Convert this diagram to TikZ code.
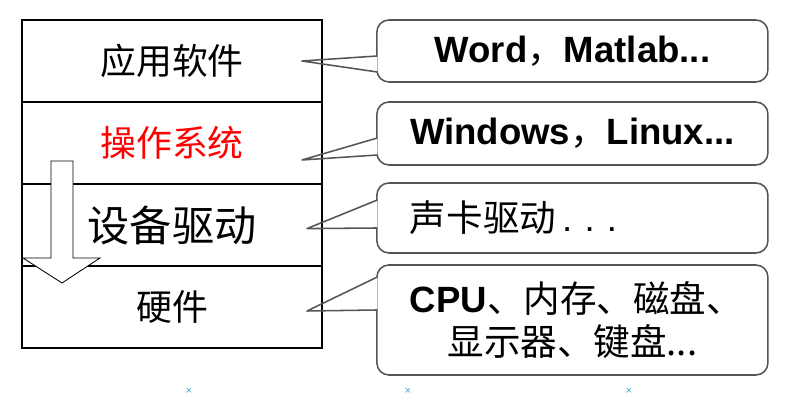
\documentclass[tikz,border=0pt]{standalone}
\usepackage{fontspec}
\setmainfont{Liberation Sans}
\newfontfamily\cjk{Noto Sans CJK SC}
\usepackage{xcolor}
\usepackage{tikz}
\usetikzlibrary{calc,positioning}

\definecolor{bubblegray}{RGB}{85,85,85}
\definecolor{markblue}{RGB}{70,170,210}

\begin{document}
\begin{tikzpicture}[transform shape,scale=1,
	layer/.style={draw,line width=1.8pt,outer sep=0pt,minimum width=7.5cm,minimum height=2.05cm,inner sep=0pt,font=\cjk\fontsize{25.5}{30}\selectfont},
	bubble/.style={draw=bubblegray,line width=1.1pt,rounded corners=0.3cm,text width=8.125cm,inner xsep=0.825cm,inner ysep=0pt,align=center,font=\fontsize{26}{30.5}\selectfont},
	pointer/.style={draw=bubblegray,line width=1.1pt,line join=round}]
	\useasboundingbox (0,0) rectangle (19.95,10);
	\node[layer] (app) at (4.3,8.475) {应用软件};
	\node[layer,below=0pt of app,text=red] (os) {操作系统};
	\node[layer,below=0pt of os,font=\cjk\fontsize{30}{36}\selectfont] (drv) {设备驱动};
	\node[layer,below=0pt of drv] (hw) {硬件};
	\node[bubble,minimum height=1.55cm] (b1) at (14.31,8.725) {\bfseries Word{\cjk\mdseries ，}Matlab...};
	\node[bubble,minimum height=1.575cm] (b2) at (14.31,6.6625) {\bfseries Windows{\cjk\mdseries ，}Linux...};
	\node[bubble,minimum height=1.75cm,align=left] (b3) at (14.31,4.55) {{\cjk 声卡驱动}\,.\ .\ .};
	\node[bubble,minimum height=2.75cm] (b4) at (14.31,2.0) {{\bfseries CPU}{\cjk 、内存、磁盘、}\\{\cjk 显示器、键盘...}};
	\coordinate (t1) at ($(app.east)+(-0.5,0)$);
	\coordinate (u1) at ($(b1.west)+(0.03,-0.125)$);
	\coordinate (v1) at ($(b1.west)+(0.03,-0.525)$);
	\coordinate (t2) at ($(os.east)+(-0.5,-0.425)$);
	\coordinate (u2) at ($(b2.west)+(0.03,-0.1125)$);
	\coordinate (v2) at ($(b2.west)+(0.03,-0.5375)$);
	\coordinate (t3) at ($(drv.east)+(-0.375,-0.09)$);
	\coordinate (u3) at ($(b3.west)+(0.03,0.45)$);
	\coordinate (v3) at ($(b3.west)+(0.03,-0.25)$);
	\coordinate (t4) at ($(hw.east)+(-0.375,-0.1)$);
	\coordinate (u4) at ($(b4.west)+(0.03,1.075)$);
	\coordinate (v4) at ($(b4.west)+(0.03,0.25)$);
	\fill[white] (u1) -- ($(u1)!0.12!(t1)$) -- ($(v1)!0.12!(t1)$) -- (v1) -- cycle;
	\fill[white] (u2) -- ($(u2)!0.12!(t2)$) -- ($(v2)!0.12!(t2)$) -- (v2) -- cycle;
	\fill[white] (u3) -- ($(u3)!0.12!(t3)$) -- ($(v3)!0.12!(t3)$) -- (v3) -- cycle;
	\fill[white] (u4) -- ($(u4)!0.12!(t4)$) -- ($(v4)!0.12!(t4)$) -- (v4) -- cycle;
	\draw[pointer] (u1) -- (t1) -- (v1);
	\draw[pointer] (u2) -- (t2) -- (v2);
	\draw[pointer] (u3) -- (t3) -- (v3);
	\draw[pointer] (u4) -- (t4) -- (v4);
	\draw[fill=white,line width=0.6pt] (1.275,5.975) -- (1.275,3.55) -- (0.575,3.55) -- (1.55,2.925) -- (2.5,3.55) -- (1.825,3.55) -- (1.825,5.975) -- cycle;
	\node[text=markblue,font=\fontsize{8}{8}\selectfont] (m1) at (4.725,0.225) {×};
	\node[text=markblue,font=\fontsize{8}{8}\selectfont] (m2) at (10.2,0.225) {×};
	\node[text=markblue,font=\fontsize{8}{8}\selectfont] (m3) at (15.725,0.225) {×};
\end{tikzpicture}
\end{document}
